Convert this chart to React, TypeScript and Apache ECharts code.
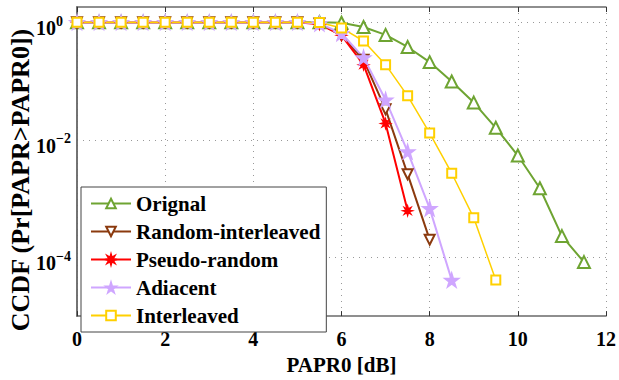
import React, { useEffect, useRef } from "react";
import * as echarts from "echarts";

const seriesNames = ["Orignal", "Random-interleaved", "Pseudo-random", "Adiacent", "Interleaved"];
const papr = [0, 0.5, 1, 1.5, 2, 2.5, 3, 3.5, 4, 4.5, 5, 5.5, 6, 6.5, 7, 7.5, 8, 8.5, 9, 9.5, 10, 10.5, 11, 11.5];
const original = [1, 1, 1, 1, 1, 1, 1, 1, 1, 1, 1, 1, 0.98, 0.83, 0.61, 0.38, 0.21, 0.098, 0.043, 0.016, 0.0054, 0.0015, 2.3e-4, 8.3e-5];
const randomInterleaved = [1, 1, 1, 1, 1, 1, 1, 1, 1, 1, 1, 0.95, 0.6, 0.23, 0.033, 0.0026, 2.0e-4];
const pseudoRandom = [1, 1, 1, 1, 1, 1, 1, 1, 1, 1, 1, 0.93, 0.6, 0.19, 0.019, 6.2e-4];
const adjacent = [1, 1, 1, 1, 1, 1, 1, 1, 1, 1, 1, 0.95, 0.65, 0.25, 0.048, 0.0063, 6.8e-4, 4.1e-5];
const interleaved = [1, 1, 1, 1, 1, 1, 1, 1, 1, 1, 1, 0.99, 0.8, 0.48, 0.19, 0.056, 0.013, 0.0027, 4.7e-4, 4.1e-5];
const xTicks = [0, 2, 4, 6, 8, 10, 12];

const FONT = "Liberation Serif";
const STAR = "path://M50,0 L61,35 L98,35 L68,57 L79,91 L50,70 L21,91 L32,57 L2,35 L39,35 Z";
const ASTER = "path://M100,50 L70.3,58.4 L85.4,85.4 L58.4,70.3 L50,100 L41.6,70.3 L14.6,85.4 L29.7,58.4 L0,50 L29.7,41.6 L14.6,14.6 L41.6,29.7 L50,0 L58.4,29.7 L85.4,14.6 L70.3,41.6 Z";

const pairs = (ys: number[]) => ys.map((y, i) => [papr[i], y]);

export default function App() {
  const ref = useRef<HTMLDivElement>(null);
  useEffect(() => {
    if (!ref.current) return;
    const chart = echarts.init(ref.current, undefined, { renderer: "svg" });
    const axisLineColor = "#6a6a6a";
    const mk = (name: string, ys: number[], color: string, symbol: string, size: number, width: number, rotate = 0) => ({
      name,
      type: "line",
      data: pairs(ys),
      symbol,
      symbolSize: size,
      symbolRotate: rotate,
      showAllSymbol: true,
      lineStyle: { color, width },
      itemStyle: { color, borderColor: color, borderWidth: 1.5 },
    });
    chart.setOption({
      animation: false,
      backgroundColor: "#fff",
      textStyle: { fontFamily: FONT },
      grid: { left: 77, right: 12, top: 7, bottom: 47, containLabel: false },
      legend: {
        orient: "vertical",
        left: 81,
        top: 187,
        padding: [6, 6, 6, 9],
        itemWidth: 40,
        itemHeight: 12,
        itemGap: 7,
        backgroundColor: "#fff",
        borderColor: "#444",
        borderWidth: 1,
        textStyle: { fontFamily: FONT, fontWeight: "bold", fontSize: 21, lineHeight: 21, color: "#000" },
        data: seriesNames,
      },
      xAxis: [
        {
          type: "value",
          min: xTicks[0],
          max: xTicks[xTicks.length - 1],
          interval: 2,
          name: "PAPR0 [dB]",
          nameLocation: "middle",
          nameGap: 33,
          nameTextStyle: { fontFamily: FONT, fontWeight: "bold", fontSize: 21, color: "#000" },
          axisLine: { show: true, lineStyle: { color: axisLineColor, width: 1.5 } },
          axisTick: { show: true, inside: true, length: 5, lineStyle: { color: "#333" } },
          axisLabel: { fontFamily: FONT, fontWeight: "bold", fontSize: 20, color: "#000", margin: 13 },
          splitLine: { show: true, lineStyle: { color: "#999", type: [1, 5], width: 1 } },
        },
        {
          type: "value",
          position: "top",
          min: xTicks[0],
          max: xTicks[xTicks.length - 1],
          interval: 2,
          axisLine: { show: true, lineStyle: { color: axisLineColor, width: 1.5 } },
          axisTick: { show: true, inside: true, length: 5, lineStyle: { color: "#333" } },
          axisLabel: { show: false },
          splitLine: { show: false },
        },
      ],
      yAxis: [
        {
          type: "log",
          logBase: 10,
          min: 1e-5,
          max: 1.82,
          interval: 1,
          axisLine: { show: true, lineStyle: { color: axisLineColor, width: 1.5 } },
          axisTick: { show: false },
          axisLabel: {
            align: "left",
            margin: 41,
            padding: [8, 0, 0, 0],
            formatter: (v: number) => {
              const e = Math.log10(v);
              const r = Math.round(e);
              if (Math.abs(e - r) > 1e-6 || r % 2 !== 0) return "";
              return `{b|10}{s|${r === 0 ? "0" : "\u2212" + -r}}`;
            },
            rich: {
              b: { fontFamily: FONT, fontWeight: "bold", fontSize: 20, lineHeight: 24, verticalAlign: "bottom", color: "#000" },
              s: { fontFamily: FONT, fontWeight: "bold", fontSize: 14, lineHeight: 14, verticalAlign: "top", color: "#000" },
            },
          },
          splitLine: {
            show: true,
            lineStyle: { color: ["rgba(0,0,0,0)", "#999"], type: [1, 5], width: 1 },
          },
        },
        {
          type: "log",
          logBase: 10,
          min: 1e-5,
          max: 1.82,
          interval: 1,
          position: "right",
          axisLine: { show: true, lineStyle: { color: axisLineColor, width: 1.5 } },
          axisTick: { show: false },
          axisLabel: { show: false },
          splitLine: { show: false },
        },
      ],
      graphic: [
        {
          type: "text",
          x: 20,
          y: 180,
          rotation: Math.PI / 2,
          style: {
            text: "CCDF (Pr[PAPR>PAPR0])",
            fontFamily: FONT,
            fontWeight: "bold",
            fontSize: 26,
            fill: "#000",
            align: "center",
            verticalAlign: "middle",
          },
        },
      ],
      series: [
        mk(seriesNames[0], original, "#6ea432", "emptyTriangle", 12, 2),
        mk(seriesNames[1], randomInterleaved, "#8b3a0e", "emptyTriangle", 10, 2, 180),
        mk(seriesNames[2], pseudoRandom, "#ff0000", ASTER, 9, 2),
        mk(seriesNames[3], adjacent, "#cfa6ff", STAR, 14, 2),
        mk(seriesNames[4], interleaved, "#ffd000", "emptyRect", 9, 1.5),
      ],
    });
    return () => chart.dispose();
  }, []);
  return <div ref={ref} style={{ width: 619, height: 380, position: "absolute", left: 0, top: 0 }} />;
}
